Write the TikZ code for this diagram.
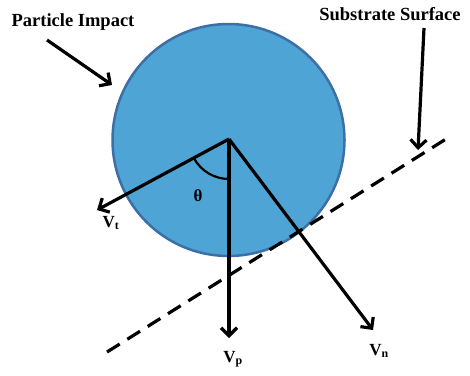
\documentclass[tikz,border=0pt]{standalone}
\usepackage{fontspec}
\setmainfont{Liberation Serif}
\usepackage{tikz}
\usetikzlibrary{arrows.meta, calc}
\definecolor{particleblue}{HTML}{4FA4D6}
\definecolor{particleedge}{HTML}{3D6FA6}

\begin{document}
\begin{tikzpicture}[x=1pt, y=-1pt,
  vec/.style={line width=3.2pt, -{Straight Barb[length=8pt, width=16pt, line width=3.2pt]}},
  lbl/.style={font=\bfseries\fontsize{18.5}{20}\selectfont, inner sep=0pt},
  vlbl/.style={font=\bfseries\fontsize{17}{19}\selectfont, inner sep=0pt}]
\useasboundingbox (0,0) rectangle (470,375);
% particle
\draw[particleedge, line width=2.5pt, fill=particleblue] (228.5,140) circle (116);
% substrate surface
\draw[line width=3.2pt, dash pattern=on 15pt off 9pt] (107,352) -- (446,139);
% velocity vectors
\coordinate (o) at (229,139);
\coordinate (tt) at (97,210);
\coordinate (tp) at (229,338);
\coordinate (tn) at (373,330);
\draw[vec] (o) -- (tt);
\draw[vec] (o) -- (tp);
\draw[vec] (o) -- (tn);
\draw[line width=2.2pt] ($(o)!40pt!(tt)$) arc[start angle=208.3, end angle=270, radius=40pt];
\node[vlbl] (theta) at (198,196) {θ};
\node[vlbl] (vt) at (111,223) {V\textsubscript{t}};
\node[vlbl] (vp) at (233,359) {V\textsubscript{p}};
\node[vlbl] (vn) at (379,351) {V\textsubscript{n}};
% labels with arrows
\node[lbl] (impact) at (73,22) {Particle Impact};
\node[lbl] (substrate) at (390,14) {Substrate Surface};
\coordinate (ia) at (47,40);
\coordinate (ib) at (112,85);
\coordinate (sa) at (424,28);
\coordinate (sb) at (418,150);
\draw[vec] (ia) -- (ib);
\draw[vec] (sa) -- (sb);
\end{tikzpicture}
\end{document}
